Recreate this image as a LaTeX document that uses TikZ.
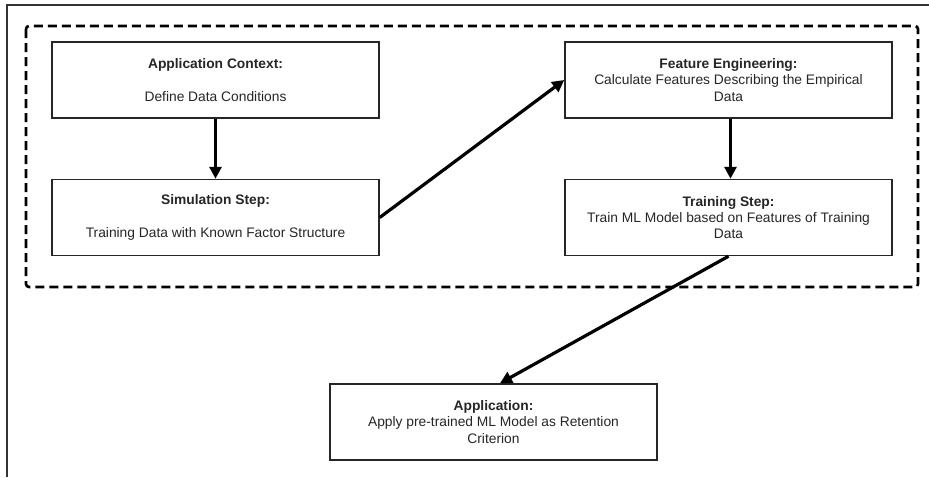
\documentclass[tikz,border=0pt]{standalone}
\usepackage{fontspec}
\setmainfont{Liberation Sans}
\usetikzlibrary{arrows.meta}
\definecolor{txt}{HTML}{262626}
\tikzset{
  stepbox/.style={draw=black!85, line width=1.5pt, rectangle, inner sep=0pt,
    minimum width=327pt, minimum height=76pt, align=center, text=txt,
    font=\fontsize{13.8}{16.2}\selectfont},
  flow/.style={line width=3.2pt, -{Triangle[length=12pt,width=12pt]}},
}
\begin{document}
\begin{tikzpicture}[x=1pt,y=-1pt]
\useasboundingbox (0,0) rectangle (929,477);
\fill[white] (0,0) rectangle (929,477);
% outer frame (left and top)
\draw[line width=1.3pt, black!80] (7,477) -- (7,5) -- (929,5);
% dashed group
\draw[line width=2.6pt, dash pattern=on 9pt off 5pt, rounded corners=3pt] (26,26) rectangle (918,287);
% boxes
\node[stepbox] (ac) at (215.5,80) {\textbf{Application Context:}\\[16pt]Define Data Conditions};
\node[stepbox] (sim) at (215.5,217.5) {\textbf{Simulation Step:}\\[16pt]Training Data with Known Factor Structure};
\node[stepbox] (fe) at (728.5,80) {\textbf{Feature Engineering:}\\Calculate Features Describing the Empirical\\Data};
\node[stepbox] (ts) at (728.5,217.5) {\textbf{Training Step:}\\Train ML Model based on Features of Training\\Data};
\node[stepbox] (app) at (493.5,422) {\textbf{Application:}\\Apply pre-trained ML Model as Retention\\Criterion};
% arrows
\draw[flow] (ac.south) -- (sim.north);
\draw[flow] ([xshift=2pt]fe.south) -- ([xshift=2pt]ts.north);
\draw[flow] (sim.east) -- (fe.west);
\draw[flow] (ts.south) -- ([xshift=6.5pt]app.north);
\end{tikzpicture}
\end{document}
